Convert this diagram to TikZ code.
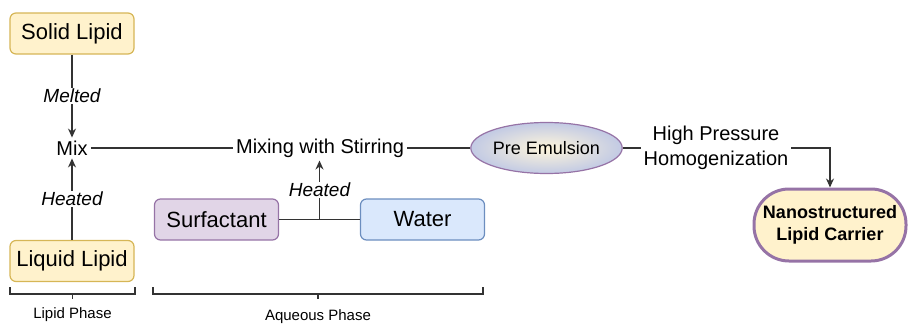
\documentclass[tikz,border=0pt]{standalone}
\usepackage{fontspec}
\setmainfont{Liberation Sans}
\usetikzlibrary{arrows.meta,shapes.geometric}
\definecolor{lipidfill}{HTML}{FFF2CC}
\definecolor{lipidline}{HTML}{D6B656}
\definecolor{surffill}{HTML}{E1D5E7}
\definecolor{surfline}{HTML}{9673A6}
\definecolor{waterfill}{HTML}{DAE8FC}
\definecolor{waterline}{HTML}{6C8EBF}
\definecolor{preouter}{HTML}{C2CAE4}
\definecolor{linegray}{HTML}{333333}
\tikzset{
  box/.style={draw, rounded corners=6pt, line width=1.2pt, minimum width=124pt, minimum height=41pt,
    font=\fontsize{22}{24}\selectfont},
  lipidbox/.style={box, fill=lipidfill, draw=lipidline},
  surfbox/.style={box, fill=surffill, draw=surfline},
  waterbox/.style={box, fill=waterfill, draw=waterline},
  plain/.style={inner sep=3pt, font=\fontsize{20}{25}\selectfont},
  lbl/.style={fill=white, inner sep=1pt, font=\fontsize{19}{22}\selectfont\itshape},
  conn/.style={draw=linegray, line width=1.3pt},
  arr/.style={conn, -{Stealth[length=9pt,width=8pt]}},
  bracket/.style={draw=linegray, line width=1.3pt},
  phase/.style={font=\fontsize{15}{18}\selectfont}
}
\begin{document}
\begin{tikzpicture}[x=1pt,y=-1pt]
\useasboundingbox (0,0) rectangle (908,324);
\node[lipidbox] (solid) at (72,33.5) {Solid Lipid};
\node[plain] (mix) at (72,148) {Mix};
\node[lipidbox] (liquid) at (72,261) {Liquid Lipid};
\node[plain] (stir) at (320,148) {Mixing with Stirring};
\node[surfbox] (surf) at (216.5,219.5) {Surfactant};
\node[waterbox] (water) at (422.5,219.5) {Water};
\node[ellipse, draw=surfline, line width=1.2pt, inner color=lipidfill!70, outer color=preouter,
  minimum width=123pt, minimum height=51pt, inner sep=0pt, font=\fontsize{18}{20}\selectfont]
  (pre) at (546.5,148) {Pre Emulsion};
\node[plain, align=center] (hph) at (716,148) {High Pressure\\Homogenization};
\node[draw=surfline, fill=lipidfill, line width=3pt, rounded corners=35pt, minimum width=152pt,
  minimum height=72pt, align=center, font=\fontsize{18}{22}\selectfont\bfseries]
  (nlc) at (830,225) {Nanostructured\\Lipid Carrier};
\draw[arr] (solid) -- node[lbl] {Melted} (mix);
\draw[arr] (liquid) -- node[lbl] {Heated} (mix);
\draw[conn] (mix) -- (stir);
\draw[conn] (stir) -- (pre);
\draw[conn] (pre) -- (hph);
\draw[arr] (hph.east) -| (nlc.north);
\draw[conn] (surf) -- coordinate (junc) (water);
\draw[arr] (junc) -- node[lbl] {Heated} (junc |- stir.south);
\draw[bracket] (10,287) -- (10,294) -- (135,294) -- (135,287) (72.5,294) -- (72.5,299);
\node[phase] (lipidphase) at (72.5,315) {Lipid Phase};
\draw[bracket] (153,287) -- (153,294) -- (483,294) -- (483,287) (318,294) -- (318,299);
\node[phase] (aqphase) at (318,317) {Aqueous Phase};
\end{tikzpicture}
\end{document}
